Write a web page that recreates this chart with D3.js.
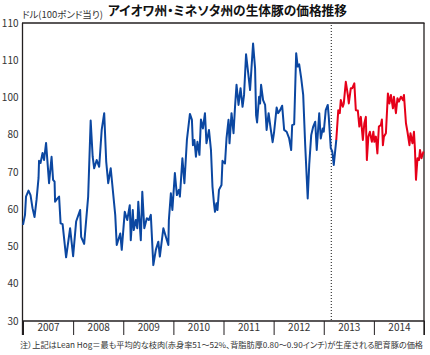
<!DOCTYPE html>
<html><head><meta charset="utf-8">
<script src="https://cdn.jsdelivr.net/npm/d3@7"></script>
<style>body{margin:0;background:#fff}svg{display:block}text{font-family:"Noto Sans CJK JP","Noto Sans",sans-serif}.palt{font-feature-settings:"palt"}</style>
</head><body><svg id="c" width="430" height="355"></svg>
<script>
const titleText = "アイオワ州・ミネソタ州の生体豚の価格推移";
const unitText = "ドル(100ポンド当り)";
const noteText = "注）上記はLean Hog＝最も平均的な枝肉(赤身率51〜52%、背脂肪厚0.80〜0.90インチ)が生産される肥育豚の価格";
const years = [2007, 2008, 2009, 2010, 2011, 2012, 2013, 2014];
const yTicks = [30, 40, 50, 60, 70, 80, 90, 100, 110];
const yTickLabels = ["30", "40", "50", "60", "70", "80", "100", "110", "110"];
const dividerAt = 2013.15;

// [decimal year, dollars per 100 lb]
const pastSeries = [
[2007.00,55.8],[2007.04,58.5],[2007.06,63.4],[2007.11,65.0],[2007.15,63.8],[2007.19,60.3],[2007.23,57.9],[2007.27,62.5],[2007.31,68.4],[2007.32,73.0],
[2007.35,72.4],[2007.39,75.1],[2007.42,73.2],[2007.46,77.8],[2007.52,67.0],[2007.57,74.1],[2007.60,67.9],[2007.63,67.4],[2007.64,62.0],[2007.68,62.8],
[2007.72,63.4],[2007.75,56.2],[2007.79,56.0],[2007.86,47.1],[2007.94,54.9],[2008.00,47.4],[2008.06,56.7],[2008.14,59.8],[2008.16,52.6],[2008.22,50.7],
[2008.30,63.4],[2008.35,83.8],[2008.39,74.1],[2008.42,71.0],[2008.47,73.2],[2008.52,71.4],[2008.57,81.3],[2008.62,85.8],[2008.66,72.8],[2008.70,67.0],
[2008.75,71.0],[2008.84,58.5],[2008.87,50.4],[2008.94,53.5],[2008.97,49.1],[2009.03,59.3],[2009.08,57.1],[2009.13,61.1],[2009.15,51.7],[2009.19,59.8],
[2009.21,54.4],[2009.25,57.1],[2009.28,54.9],[2009.30,62.0],[2009.35,51.7],[2009.38,64.7],[2009.42,54.9],[2009.47,57.6],[2009.51,57.1],[2009.55,58.5],
[2009.60,45.0],[2009.65,49.1],[2009.70,51.3],[2009.73,47.3],[2009.80,54.9],[2009.85,52.6],[2009.90,50.4],[2009.91,57.1],[2009.95,64.3],[2009.98,59.8],
[2010.03,69.7],[2010.07,63.8],[2010.11,65.2],[2010.13,63.4],[2010.18,73.7],[2010.22,67.0],[2010.27,78.6],[2010.33,85.6],[2010.37,84.0],[2010.39,77.2],
[2010.42,78.6],[2010.45,74.1],[2010.48,78.1],[2010.52,74.6],[2010.55,84.1],[2010.59,81.7],[2010.63,85.8],[2010.66,77.7],[2010.71,81.3],[2010.75,75.9],
[2010.78,66.1],[2010.81,61.6],[2010.83,59.3],[2010.86,61.6],[2010.88,59.8],[2010.91,65.2],[2010.96,66.5],[2010.98,73.0],[2011.03,72.3],[2011.06,79.0],
[2011.10,84.0],[2011.12,77.7],[2011.16,85.8],[2011.20,80.4],[2011.23,87.5],[2011.26,93.4],[2011.30,88.0],[2011.34,92.5],[2011.38,87.5],[2011.41,90.7],
[2011.45,101.6],[2011.49,96.9],[2011.53,92.0],[2011.59,104.5],[2011.63,97.8],[2011.65,85.3],[2011.67,83.3],[2011.71,90.2],[2011.73,88.4],[2011.75,93.4],
[2011.79,89.3],[2011.83,88.0],[2011.86,81.3],[2011.90,85.8],[2011.94,81.7],[2011.98,78.0],[2012.01,80.8],[2012.06,87.3],[2012.09,85.8],[2012.13,86.6],
[2012.17,87.8],[2012.21,81.3],[2012.26,80.8],[2012.31,79.0],[2012.35,75.9],[2012.37,82.6],[2012.41,82.8],[2012.45,101.9],[2012.48,98.3],[2012.51,98.9],
[2012.55,95.2],[2012.59,90.7],[2012.63,77.2],[2012.68,62.9],[2012.71,71.9],[2012.75,79.9],[2012.79,82.2],[2012.83,83.5],[2012.86,75.9],[2012.91,85.8],
[2012.94,79.0],[2012.98,81.7],[2013.00,80.8],[2013.04,86.6],[2013.08,88.0],[2013.10,84.8],[2013.14,76.4],[2013.17,75.5],[2013.20,71.9],[2013.25,78.6]
];
const recentSeries = [
[2013.25,78.6],[2013.29,86.6],[2013.32,85.8],[2013.34,89.3],[2013.38,87.5],[2013.40,88.4],[2013.44,94.2],[2013.48,90.7],[2013.50,88.4],[2013.54,92.5],
[2013.57,92.5],[2013.61,93.8],[2013.64,86.6],[2013.68,86.5],[2013.71,82.2],[2013.74,84.8],[2013.78,78.6],[2013.81,83.1],[2013.84,84.8],[2013.86,73.2],
[2013.89,79.5],[2013.92,80.8],[2013.96,78.1],[2013.99,80.8],[2014.01,78.1],[2014.04,79.5],[2014.07,75.0],[2014.10,82.2],[2014.14,82.6],[2014.16,84.1],
[2014.18,77.2],[2014.20,79.5],[2014.24,80.4],[2014.28,91.1],[2014.31,88.4],[2014.34,90.7],[2014.38,87.1],[2014.40,90.2],[2014.44,85.8],[2014.47,89.8],
[2014.50,88.9],[2014.54,90.2],[2014.58,89.3],[2014.60,90.7],[2014.64,83.1],[2014.67,80.8],[2014.71,77.2],[2014.73,80.4],[2014.77,77.7],[2014.80,80.8],
[2014.82,75.9],[2014.84,67.9],[2014.87,73.7],[2014.90,73.2],[2014.92,75.9],[2014.95,73.7],[2014.99,75.5]
];

const L = 23, R = 424, T = 23, B = 321, AX = 335;
const svg = d3.select("#c");
const x = d3.scaleLinear().domain([2007, 2015]).range([L, R]);
const y = d3.scaleLinear().domain([30, 110]).range([B, T]);
const ink = "#231f20";

// fit a text to a target width by adjusting its font size
function fitText(sel, width) {
  const fs = +sel.attr("font-size");
  const w = sel.node().getComputedTextLength();
  if (w > 0) sel.attr("font-size", (fs * width / w).toFixed(2));
}

// Title and unit
const title = svg.append("text").attr("class", "palt").attr("x", 108).attr("y", 15).attr("font-size", 13).attr("font-weight", 700)
  .attr("fill", "#111").text(titleText);
fitText(title, 239);
const unit = svg.append("text").attr("class", "palt").attr("x", 22).attr("y", 17.5).attr("font-size", 8.5).attr("fill", "#333").text(unitText);
fitText(unit, 81);

// Y axis
const ya = svg.append("g").attr("transform", `translate(${L - 0.5},0)`)
  .call(d3.axisLeft(y).tickValues(yTicks).tickFormat((d, i) => yTickLabels[i]).tickSize(0).tickPadding(4));
ya.select(".domain").remove();
ya.selectAll("text").attr("font-size", 10).attr("fill", "#333").style("font-family", '"Noto Sans CJK JP",sans-serif');

// X axis: cell separators and centred year labels
const xt = svg.append("g").attr("transform", `translate(0,${B})`)
  .call(d3.axisBottom(x).tickValues(d3.range(2007, 2016)).tickSize(AX - B).tickFormat(""));
xt.select(".domain").remove();
xt.selectAll("line").attr("stroke", ink).attr("stroke-width", 1);
const xl = svg.append("g").attr("transform", `translate(0,${B})`)
  .call(d3.axisBottom(x).tickValues(years.map(d => d + 0.5)).tickSize(0).tickPadding(3).tickFormat(d => String(Math.floor(d))));
xl.select(".domain").remove();
xl.selectAll("text").attr("font-size", 10).attr("fill", "#333").style("font-family", '"Noto Sans CJK JP",sans-serif');

// Frame
svg.append("line").attr("x1", L - 0.5).attr("x2", L - 0.5).attr("y1", T).attr("y2", AX).attr("stroke", ink).attr("stroke-width", 1.3);
svg.append("line").attr("x1", R).attr("x2", R).attr("y1", T).attr("y2", AX).attr("stroke", ink).attr("stroke-width", 1.3);
svg.append("line").attr("x1", L - 1).attr("x2", R + 0.5).attr("y1", T).attr("y2", T).attr("stroke", ink).attr("stroke-width", 1.3);
svg.append("line").attr("x1", L - 1).attr("x2", R + 0.5).attr("y1", B).attr("y2", B).attr("stroke", ink).attr("stroke-width", 1.3);

// Divider
svg.append("line").attr("x1", x(dividerAt)).attr("x2", x(dividerAt)).attr("y1", T + 2).attr("y2", B)
  .attr("stroke", "#111").attr("stroke-width", 1).attr("stroke-dasharray", "1,2");

// Lines
const line = d3.line().x(d => x(d[0])).y(d => y(d[1]));
svg.append("path").datum(pastSeries).attr("d", line).attr("fill", "none").attr("stroke", "#0b47a1")
  .attr("stroke-width", 2).attr("stroke-linejoin", "round");
svg.append("path").datum(recentSeries).attr("d", line).attr("fill", "none").attr("stroke", "#e60019")
  .attr("stroke-width", 2).attr("stroke-linejoin", "round");

// Footnote
const note = svg.append("text").attr("class", "palt").attr("x", 20).attr("y", 348).attr("font-size", 8.5).attr("fill", "#333").text(noteText);
fitText(note, 403);
</script></body></html>
